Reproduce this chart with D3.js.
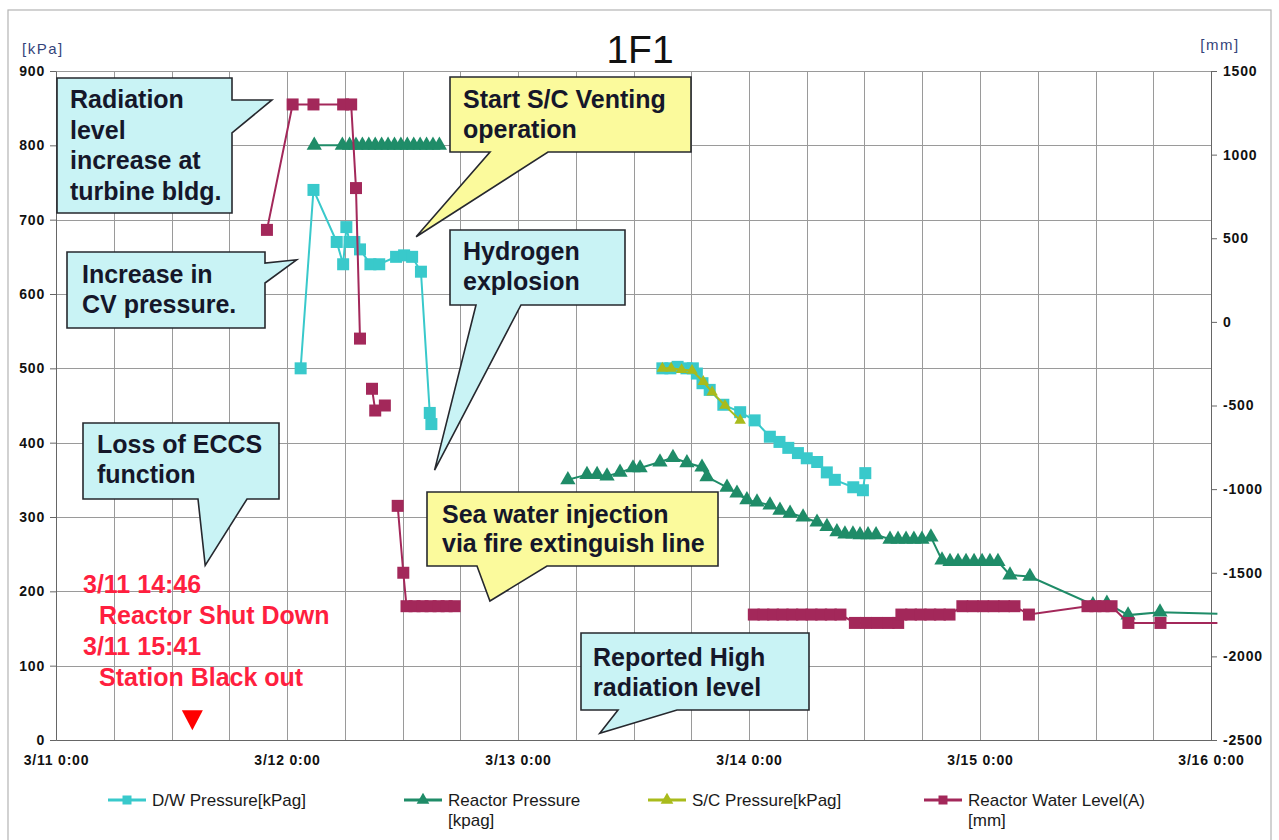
<!DOCTYPE html>
<html>
<head>
<meta charset="utf-8">
<script src="https://cdn.jsdelivr.net/npm/d3@7"></script>
<style>
  body { margin: 0; background: #fff; }
  svg { display: block; font-family: "Liberation Sans", Arial, sans-serif; }
</style>
</head>
<body>
<svg id="chart" width="1279" height="840"></svg>
<script>
// ---- chart data ----------------------------------------------------------
const chartTitle = "1F1";
const pressureTicks = [0, 100, 200, 300, 400, 500, 600, 700, 800, 900];
const levelTicks = [-2500, -2000, -1500, -1000, -500, 0, 500, 1000, 1500];
const dayTicks = ["2011-03-11 00:00", "2011-03-12 00:00", "2011-03-13 00:00",
                  "2011-03-14 00:00", "2011-03-15 00:00", "2011-03-16 00:00"];
const dayTickLabels = ["3/11 0:00", "3/12 0:00", "3/13 0:00", "3/14 0:00", "3/15 0:00", "3/16 0:00"];

const seriesNames = ["D/W Pressure[kPag]", "Reactor Pressure\n[kpag]", "S/C Pressure[kPag]", "Reactor Water Level(A)\n[mm]"];

// null entries break the line
const dwPressure = [
  ["2011-03-12 01:25", 500], ["2011-03-12 02:45", 740], ["2011-03-12 05:10", 670],
  ["2011-03-12 05:50", 640], ["2011-03-12 06:10", 690], ["2011-03-12 06:30", 670],
  ["2011-03-12 07:00", 670], ["2011-03-12 07:35", 660], ["2011-03-12 08:40", 640],
  ["2011-03-12 09:35", 640], ["2011-03-12 11:20", 650], ["2011-03-12 12:10", 652],
  ["2011-03-12 13:00", 650], ["2011-03-12 13:55", 630], ["2011-03-12 14:50", 440],
  ["2011-03-12 15:00", 425],
  null,
  ["2011-03-13 15:00", 500], ["2011-03-13 15:50", 500], ["2011-03-13 16:35", 502],
  ["2011-03-13 17:30", 500], ["2011-03-13 18:10", 500], ["2011-03-13 18:35", 493],
  ["2011-03-13 19:10", 480], ["2011-03-13 19:55", 471], ["2011-03-13 21:20", 451],
  ["2011-03-13 23:05", 441], ["2011-03-14 00:35", 430], ["2011-03-14 02:10", 408],
  ["2011-03-14 03:10", 401], ["2011-03-14 04:05", 393], ["2011-03-14 05:05", 386],
  ["2011-03-14 06:00", 379], ["2011-03-14 07:05", 374], ["2011-03-14 08:05", 360],
  ["2011-03-14 08:55", 350], ["2011-03-14 10:50", 340], ["2011-03-14 11:50", 336],
  ["2011-03-14 12:05", 359]
];

const reactorPressure = [
  ["2011-03-12 02:50", 800], ["2011-03-12 05:45", 800], ["2011-03-12 06:30", 800],
  ["2011-03-12 07:10", 800], ["2011-03-12 07:50", 800], ["2011-03-12 08:30", 800],
  ["2011-03-12 09:10", 800], ["2011-03-12 09:50", 800], ["2011-03-12 10:30", 800],
  ["2011-03-12 11:10", 800], ["2011-03-12 11:50", 800], ["2011-03-12 12:30", 800],
  ["2011-03-12 13:10", 800], ["2011-03-12 13:50", 800], ["2011-03-12 14:30", 800],
  ["2011-03-12 15:10", 800], ["2011-03-12 15:50", 800],
  null,
  ["2011-03-13 05:11", 350], ["2011-03-13 07:10", 357], ["2011-03-13 08:13", 357],
  ["2011-03-13 09:15", 355], ["2011-03-13 10:36", 360], ["2011-03-13 11:57", 366],
  ["2011-03-13 12:41", 366], ["2011-03-13 14:45", 374], ["2011-03-13 16:06", 380],
  ["2011-03-13 17:33", 373], ["2011-03-13 19:07", 367], ["2011-03-13 19:38", 354],
  ["2011-03-13 21:43", 340], ["2011-03-13 22:45", 332], ["2011-03-13 23:47", 323],
  ["2011-03-14 00:50", 320], ["2011-03-14 02:11", 316], ["2011-03-14 03:13", 309],
  ["2011-03-14 04:16", 305], ["2011-03-14 05:37", 300], ["2011-03-14 07:04", 293],
  ["2011-03-14 08:06", 287], ["2011-03-14 09:08", 280], ["2011-03-14 09:58", 277],
  ["2011-03-14 10:48", 277], ["2011-03-14 11:32", 276], ["2011-03-14 12:22", 276],
  ["2011-03-14 13:12", 276], ["2011-03-14 14:39", 270], ["2011-03-14 15:29", 270],
  ["2011-03-14 16:19", 270], ["2011-03-14 17:08", 270], ["2011-03-14 17:58", 270],
  ["2011-03-14 18:54", 273], ["2011-03-14 20:03", 242], ["2011-03-14 20:53", 240],
  ["2011-03-14 21:43", 240], ["2011-03-14 22:33", 240], ["2011-03-14 23:23", 240],
  ["2011-03-15 00:13", 240], ["2011-03-15 01:02", 240], ["2011-03-15 01:52", 240],
  ["2011-03-15 03:07", 222], ["2011-03-15 05:11", 220], ["2011-03-15 11:44", 182],
  ["2011-03-15 13:11", 184], ["2011-03-15 15:23", 168], ["2011-03-15 18:42", 172],
  ["2011-03-16 00:40", 170]
];

const scPressure = [
  ["2011-03-13 15:00", 500], ["2011-03-13 15:55", 500], ["2011-03-13 17:00", 498],
  ["2011-03-13 18:05", 497], ["2011-03-13 19:15", 482], ["2011-03-13 20:10", 468],
  ["2011-03-13 21:30", 450], ["2011-03-13 23:05", 430]
];

const waterLevel = [
  ["2011-03-11 21:55", 550], ["2011-03-12 00:35", 1300], ["2011-03-12 02:45", 1300],
  ["2011-03-12 05:50", 1300], ["2011-03-12 06:40", 1300], ["2011-03-12 07:10", 800],
  ["2011-03-12 07:35", -100],
  null,
  ["2011-03-12 08:50", -400], ["2011-03-12 09:10", -530], ["2011-03-12 10:10", -500],
  null,
  ["2011-03-12 11:30", -1100], ["2011-03-12 12:05", -1500], ["2011-03-12 12:25", -1700],
  ["2011-03-12 13:15", -1700], ["2011-03-12 14:05", -1700], ["2011-03-12 14:55", -1700],
  ["2011-03-12 15:45", -1700], ["2011-03-12 16:35", -1700], ["2011-03-12 17:25", -1700],
  null,
  ["2011-03-14 00:30", -1750], ["2011-03-14 01:30", -1750], ["2011-03-14 02:30", -1750],
  ["2011-03-14 03:30", -1750], ["2011-03-14 04:30", -1750], ["2011-03-14 05:30", -1750],
  ["2011-03-14 06:30", -1750], ["2011-03-14 07:30", -1750], ["2011-03-14 08:30", -1750],
  ["2011-03-14 09:30", -1750], ["2011-03-14 11:00", -1800], ["2011-03-14 12:10", -1800],
  ["2011-03-14 13:20", -1800], ["2011-03-14 14:30", -1800], ["2011-03-14 15:30", -1800],
  ["2011-03-14 15:50", -1750], ["2011-03-14 16:50", -1750], ["2011-03-14 17:50", -1750],
  ["2011-03-14 18:50", -1750], ["2011-03-14 19:50", -1750], ["2011-03-14 20:50", -1750],
  ["2011-03-14 22:10", -1700], ["2011-03-14 23:15", -1700], ["2011-03-15 00:20", -1700],
  ["2011-03-15 01:25", -1700], ["2011-03-15 02:30", -1700], ["2011-03-15 03:35", -1700],
  ["2011-03-15 05:05", -1750], ["2011-03-15 11:10", -1700], ["2011-03-15 12:00", -1700],
  ["2011-03-15 12:50", -1700], ["2011-03-15 13:40", -1700], ["2011-03-15 15:25", -1800],
  ["2011-03-15 18:45", -1800], ["2011-03-16 00:40", -1800]
];

// event notes shown in red near the time axis
const eventLines = ["3/11 14:46", "Reactor Shut Down", "3/11 15:41", "Station Black out"];
const eventMarkerTime = "2011-03-11 14:10";

// callout notes: text, box geometry, and the point each one refers to (time, kPa)
const callouts = [
  { lines: ["Radiation", "level", "increase at", "turbine bldg."], fill: "#c9f3f5",
    box: [57, 78, 175, 135], side: "right", base: [22, 55], tip: ["2011-03-11 22:26", 861],
    textX: 13, firstBase: 30, lineGap: 30.5 },
  { lines: ["Increase in", "CV pressure."], fill: "#c9f3f5",
    box: [67, 252, 198, 76], side: "right", base: [11, 31], tip: ["2011-03-12 01:00", 646],
    textX: 15, firstBase: 31, lineGap: 30 },
  { lines: ["Start S/C Venting", "operation"], fill: "#fbfa9c",
    box: [450, 77, 241, 75], side: "bottom", base: [40, 98], tip: ["2011-03-12 13:25", 677],
    textX: 13, firstBase: 31, lineGap: 30 },
  { lines: ["Hydrogen", "explosion"], fill: "#c9f3f5",
    box: [450, 230, 175, 75], side: "bottom", base: [26, 71], tip: ["2011-03-12 15:20", 363],
    textX: 13, firstBase: 30, lineGap: 30 },
  { lines: ["Loss of ECCS", "function"], fill: "#c9f3f5",
    box: [83, 423, 196, 76], side: "bottom", base: [115, 164], tip: ["2011-03-11 15:30", 235],
    textX: 14, firstBase: 30, lineGap: 30 },
  { lines: ["Sea water injection", "via fire extinguish line"], fill: "#fbfa9c",
    box: [427, 492, 291, 74], side: "bottom", base: [50, 120], tip: ["2011-03-12 21:05", 187],
    textX: 15, firstBase: 31, lineGap: 29 },
  { lines: ["Reported High", "radiation level"], fill: "#c9f3f5",
    box: [581, 633, 228, 77], side: "bottom", base: [37, 96], tip: ["2011-03-13 08:30", 9],
    textX: 12, firstBase: 33, lineGap: 30 }
];

// ---- drawing -------------------------------------------------------------
const parseTime = d3.timeParse("%Y-%m-%d %H:%M");
const svg = d3.select("#chart");
const plot = { left: 56, right: 1211, top: 71, bottom: 740 };

const x = d3.scaleTime()
  .domain([parseTime(dayTicks[0]), parseTime(dayTicks[dayTicks.length - 1])])
  .range([plot.left, plot.right]);
const yP = d3.scaleLinear().domain([0, 900]).range([plot.bottom, plot.top]);
const yL = d3.scaleLinear().domain([-2500, 1500]).range([plot.bottom, plot.top]);

const colors = { dw: "#39c9cb", rp: "#1f8c68", sc: "#a9bb1c", wl: "#a3285a" };

// page frame
svg.append("rect").attr("x", 8).attr("y", 10).attr("width", 1263).attr("height", 840)
  .attr("fill", "#fff").attr("stroke", "#b4b4b4").attr("stroke-width", 1.2);

// title
svg.append("text").attr("x", 640).attr("y", 63).attr("text-anchor", "middle")
  .attr("font-size", 39).attr("fill", "#111").text(chartTitle);

// grid
const grid = svg.append("g").attr("stroke", "#9a9a9a").attr("stroke-width", 1);
const sixHours = d3.timeHour.every(6).range(x.domain()[0], d3.timeHour.offset(x.domain()[1], 1));
grid.selectAll("line.v").data(sixHours).join("line")
  .attr("x1", d => Math.round(x(d)) + 0.5).attr("x2", d => Math.round(x(d)) + 0.5)
  .attr("y1", plot.top).attr("y2", plot.bottom);
grid.selectAll("line.h").data(pressureTicks).join("line")
  .attr("x1", plot.left).attr("x2", plot.right)
  .attr("y1", d => Math.round(yP(d)) + 0.5).attr("y2", d => Math.round(yP(d)) + 0.5);

// axes
const tickFont = g => g.selectAll("text").attr("font-size", 14).attr("font-weight", "bold")
  .attr("letter-spacing", 0.8).attr("fill", "#111")
  .attr("font-family", "'Liberation Sans', Arial, sans-serif");
const axisStyle = g => { g.select(".domain").attr("stroke", "#666"); g.selectAll(".tick line").attr("stroke", "#666"); };

svg.append("g").attr("transform", `translate(${plot.left},0)`)
  .call(d3.axisLeft(yP).tickValues(pressureTicks).tickSize(6).tickSizeOuter(0).tickPadding(5))
  .call(tickFont).call(axisStyle);
svg.append("g").attr("transform", `translate(${plot.right},0)`)
  .call(d3.axisRight(yL).tickValues(levelTicks).tickSize(6).tickSizeOuter(0).tickPadding(6)
        .tickFormat(d => d < 0 ? "-" + Math.abs(d) : String(d)))
  .call(tickFont).call(axisStyle);
svg.append("g").attr("transform", `translate(0,${plot.bottom})`)
  .call(d3.axisBottom(x).tickValues(dayTicks.map(parseTime)).tickSize(0).tickSizeOuter(0).tickPadding(15)
        .tickFormat((d, i) => dayTickLabels[i]))
  .call(tickFont).call(axisStyle);

// unit labels
svg.append("text").attr("x", 22).attr("y", 54).attr("font-size", 15).attr("letter-spacing", 1.5)
  .attr("fill", "#34437a").text("[kPa]");
svg.append("text").attr("x", 1220).attr("y", 50).attr("font-size", 15).attr("letter-spacing", 1.5)
  .attr("text-anchor", "middle").attr("fill", "#34437a").text("[mm]");

// series
const toPoints = arr => arr.map(d => d === null ? null : { t: parseTime(d[0]), v: d[1] });
const series = [
  { key: "dw", data: toPoints(dwPressure), y: yP, marker: "square", size: 12, width: 2 },
  { key: "rp", data: toPoints(reactorPressure), y: yP, marker: "triangle", size: 12, width: 2 },
  { key: "sc", data: toPoints(scPressure), y: yP, marker: "triangle", size: 9, width: 2 },
  { key: "wl", data: toPoints(waterLevel), y: yL, marker: "square", size: 12, width: 2 }
];

const symbolPath = (type, s) => type === "square"
  ? d3.symbol(d3.symbolSquare, s * s)()
  : d3.symbol(d3.symbolTriangle, s * s * 0.7)();

series.forEach(s => {
  const line = d3.line().defined(d => d !== null).x(d => x(d.t)).y(d => s.y(d.v));
  const g = svg.append("g");
  g.append("path").attr("d", line(s.data)).attr("fill", "none")
    .attr("stroke", colors[s.key]).attr("stroke-width", s.width);
  g.selectAll("path.m").data(s.data.filter(d => d !== null && d.t <= x.domain()[1])).join("path")
    .attr("class", "m")
    .attr("transform", d => `translate(${x(d.t)},${s.y(d.v)})`)
    .attr("d", symbolPath(s.marker, s.size))
    .attr("fill", colors[s.key]);
});

// red event notes
const ev = svg.append("g").attr("fill", "#ff1f3f").attr("font-size", 25).attr("font-weight", "bold");
[[83, 593], [99, 624], [83, 655], [99, 686]].forEach((p, i) =>
  ev.append("text").attr("x", p[0]).attr("y", p[1]).text(eventLines[i]));
const ex = x(parseTime(eventMarkerTime));
svg.append("path").attr("d", `M${ex - 10.5},${yP(40)} L${ex + 10.5},${yP(40)} L${ex},${yP(40) + 20} Z`)
  .attr("fill", "#ff0000");

// callouts
callouts.forEach(c => {
  const [bx, by, bw, bh] = c.box;
  const tx = x(parseTime(c.tip[0])), ty = yP(c.tip[1]);
  let d;
  if (c.side === "right") {
    d = `M${bx},${by} H${bx + bw} V${by + c.base[0]} L${tx},${ty} L${bx + bw},${by + c.base[1]} V${by + bh} H${bx} Z`;
  } else {
    d = `M${bx},${by} H${bx + bw} V${by + bh} H${bx + c.base[1]} L${tx},${ty} L${bx + c.base[0]},${by + bh} H${bx} Z`;
  }
  const g = svg.append("g");
  g.append("path").attr("d", d).attr("fill", c.fill).attr("stroke", "#26282e").attr("stroke-width", 1.6)
    .attr("stroke-linejoin", "miter");
  c.lines.forEach((t, i) => g.append("text")
    .attr("x", bx + c.textX).attr("y", by + c.firstBase + i * c.lineGap)
    .attr("font-size", 25).attr("font-weight", "bold").attr("fill", "#15172a").text(t));
});

// legend
const legendItems = [
  { key: "dw", x: 108, marker: "square", size: 9 },
  { key: "rp", x: 404, marker: "triangle", size: 10 },
  { key: "sc", x: 648, marker: "triangle", size: 10 },
  { key: "wl", x: 924, marker: "square", size: 9 }
];
const lg = svg.append("g");
legendItems.forEach((it, i) => {
  const g = lg.append("g").attr("transform", `translate(${it.x},800)`);
  g.append("line").attr("x1", 0).attr("x2", 38).attr("stroke", colors[it.key]).attr("stroke-width", 3);
  g.append("path").attr("transform", "translate(19,0)").attr("d", symbolPath(it.marker, it.size))
    .attr("fill", colors[it.key]);
  seriesNames[i].split("\n").forEach((t, j) => g.append("text")
    .attr("x", 44).attr("y", 6 + j * 20).attr("font-size", 17).attr("fill", "#1a1a1a").text(t));
});
</script>
</body>
</html>
